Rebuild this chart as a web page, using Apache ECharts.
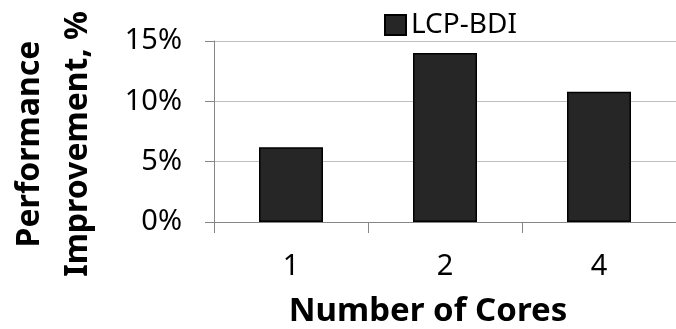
<!DOCTYPE html>
<html>
<head>
<meta charset="utf-8">
<script src="https://cdn.jsdelivr.net/npm/echarts@6/dist/echarts.min.js"></script>
<style>
html,body{margin:0;padding:0;background:#fff;}
#chart{width:676px;height:329px;}
</style>
</head>
<body>
<div id="chart"></div>
<script>
const categories = ['1', '2', '4'];
const seriesName = 'LCP-BDI';
const values = [6.2, 14.0, 10.8];
const yTicks = [0, 5, 10, 15];
const xTitle = 'Number of Cores';
const yTitle = 'Performance\nImprovement, %';

const FONT = '"Noto Sans", "Open Sans", sans-serif';
const chart = echarts.init(document.getElementById('chart'), null, {renderer: 'canvas'});
chart.setOption({
  animation: false,
  backgroundColor: '#ffffff',
  grid: {left: 214, top: 41, width: 471, height: 181, containLabel: false},
  legend: {
    data: [seriesName],
    left: 384, top: 11, padding: 0,
    itemWidth: 21, itemHeight: 20, itemGap: 10,
    icon: 'rect',
    textStyle: {fontFamily: FONT, fontSize: 28, color: '#000', padding: [0, 0, 0, 0]}
  },
  xAxis: {
    type: 'category',
    data: categories,
    axisLine: {show: true, lineStyle: {color: '#868686', width: 1}},
    axisTick: {show: true, length: 11, alignWithLabel: false, lineStyle: {color: '#868686'}},
    axisLabel: {fontFamily: FONT, fontSize: 29, color: '#000', margin: 30},
    splitLine: {show: false}
  },
  yAxis: {
    type: 'value',
    min: yTicks[0], max: yTicks[yTicks.length - 1], interval: yTicks[1] - yTicks[0],
    axisLine: {show: true, lineStyle: {color: '#868686', width: 1}},
    axisTick: {show: true, length: 9, lineStyle: {color: '#868686'}},
    axisLabel: {fontFamily: FONT, fontSize: 29, color: '#000', margin: 32, formatter: '{value}%'},
    splitLine: {show: true, lineStyle: {color: '#bfbfbf', width: 1}}
  },
  graphic: [
    {
      type: 'text', x: 428, y: 312,
      style: {text: xTitle, font: 'bold 33px ' + FONT, fill: '#000', textAlign: 'center', textVerticalAlign: 'middle'}
    },
    {
      type: 'text', x: 54, y: 144, rotation: Math.PI / 2,
      style: {text: yTitle, font: 'bold 32px ' + FONT, fill: '#000', textAlign: 'center', textVerticalAlign: 'middle', lineHeight: 48}
    }
  ],
  series: [{
    name: seriesName,
    type: 'bar',
    data: values,
    barWidth: 64,
    itemStyle: {color: '#262626', borderColor: '#000', borderWidth: 1.5}
  }]
});
</script>
</body>
</html>
